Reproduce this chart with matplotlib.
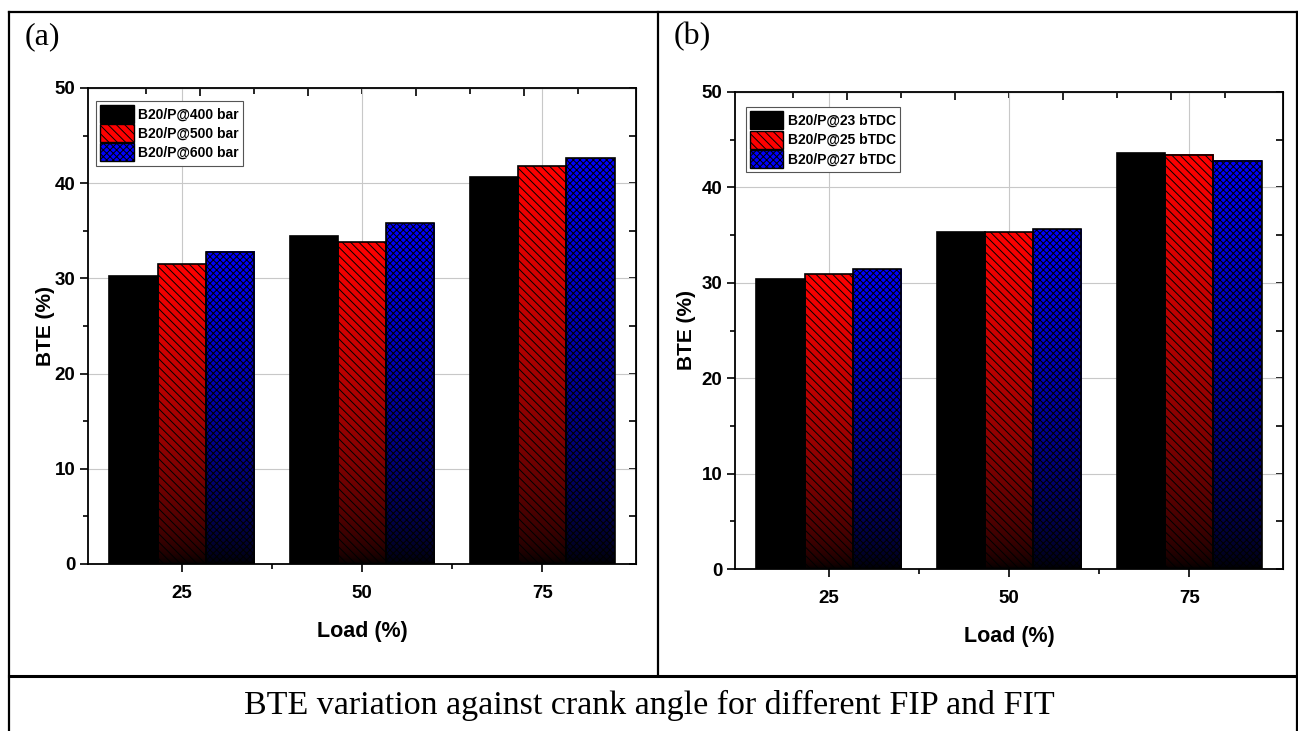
import numpy as np
import matplotlib.pyplot as plt
from matplotlib.patches import Rectangle
from matplotlib.lines import Line2D
from matplotlib.ticker import FixedLocator, MultipleLocator

plt.rcParams['font.family'] = ['Liberation Sans', 'DejaVu Sans']
plt.rcParams['hatch.linewidth'] = 0.7

W, H = 1298, 731

# data
loads = [25, 50, 75]
fip_labels = ['B20/P@400 bar', 'B20/P@500 bar', 'B20/P@600 bar']
bte_400bar = [30.2, 34.5, 40.7]
bte_500bar = [31.5, 33.8, 41.8]
bte_600bar = [32.8, 35.8, 42.6]
fit_labels = ['B20/P@23 bTDC', 'B20/P@25 bTDC', 'B20/P@27 bTDC']
bte_23btdc = [30.4, 35.3, 43.6]
bte_25btdc = [30.9, 35.3, 43.4]
bte_27btdc = [31.4, 35.6, 42.8]
caption = 'BTE variation against crank angle for different FIP and FIT'

colors = [(0, 0, 0), (1, 0, 0), (0, 0, 1)]
hatches = ['', '\\' * 4, 'x' * 5]


def px_axes(fig, left, top, right, bottom):
    # axes placed in pixel coords of the picture
    return fig.add_axes([left / W, 1 - bottom / H, (right - left) / W, (bottom - top) / H])


def draw_panel(ax, series, labels, legend_anchor, ylabel_x):
    width = 6.7
    offsets = [-width, 0, width]
    for vals, off, col, h in zip(series, offsets, colors, hatches):
        xs = np.array(loads) + off
        if col == (0, 0, 0):
            ax.bar(xs, vals, width, color='black', edgecolor='black', lw=1.2, zorder=3)
            continue
        bars = ax.bar(xs, vals, width, color='none', edgecolor='black', hatch=h, lw=1.2, zorder=3)
        for rect in bars:
            x0 = rect.get_x()
            hgt = rect.get_height()
            # gradient from full colour at the top to black at the bottom
            shade = np.linspace(1, 0, 256) ** 0.6
            grad = shade[:, None, None] * np.array(col)[None, None, :]
            ax.imshow(grad, extent=[x0, x0 + width, 0, hgt], aspect='auto',
                      origin='upper', interpolation='bilinear', zorder=2)

    ax.set_xlim(12, 88)
    ax.set_ylim(0, 50)
    ax.set_axisbelow(True)
    ax.grid(True, color='#c8c8c8', lw=0.8, zorder=0)

    ax.set_xticks(loads)
    ax.xaxis.set_minor_locator(FixedLocator([37.5, 62.5]))
    ax.yaxis.set_major_locator(MultipleLocator(10))
    ax.yaxis.set_minor_locator(MultipleLocator(5))
    ax.tick_params(which='major', direction='out', length=6, width=1.2, labelsize=13.5)
    ax.tick_params(axis='x', which='major', pad=9)
    ax.tick_params(axis='y', which='major', pad=3)
    ax.tick_params(which='minor', direction='out', length=3.5, width=1.2)
    for lab in ax.get_xticklabels() + ax.get_yticklabels():
        lab.set_fontweight('bold')
    for sp in ax.spines.values():
        sp.set_linewidth(1.3)

    top = ax.secondary_xaxis('top')
    top.set_xticks([27.5, 42.5, 57.5, 72.5])
    top.xaxis.set_minor_locator(FixedLocator([20, 35, 50, 65, 80]))
    top.tick_params(which='major', direction='in', length=6, width=1.2, labeltop=False)
    top.tick_params(which='minor', direction='in', length=4, width=1.2)
    right = ax.secondary_yaxis('right')
    right.set_yticks(np.arange(0, 51, 5))
    right.tick_params(direction='in', length=5, width=1.2, labelright=False)

    ax.set_xlabel('Load (%)', fontsize=15.5, fontweight='bold', labelpad=14)
    ax.set_ylabel('BTE (%)', fontsize=15, fontweight='bold')
    ax.yaxis.set_label_coords(ylabel_x, 0.5)

    handles = [Rectangle((0, 0), 1, 1, facecolor=c, edgecolor='black', hatch=h, lw=1.0)
               for c, h in zip(colors, hatches)]
    leg = ax.legend(handles, labels, loc='upper left', bbox_to_anchor=legend_anchor,
                    prop={'weight': 'bold', 'size': 10}, frameon=True, fancybox=False,
                    edgecolor='#555555', framealpha=1, handlelength=2.4, handleheight=1.6,
                    labelspacing=0.1, handletextpad=0.3, borderpad=0.3, borderaxespad=0)
    leg.get_frame().set_linewidth(0.8)


fig = plt.figure(figsize=(W / 100, H / 100), dpi=100)

ax_a = px_axes(fig, 88, 88, 636, 564)
draw_panel(ax_a, [bte_400bar, bte_500bar, bte_600bar], fip_labels, (0.015, 0.973), -0.06)

ax_b = px_axes(fig, 735, 92, 1283, 569)
draw_panel(ax_b, [bte_23btdc, bte_25btdc, bte_27btdc], fit_labels, (0.02, 0.968), -0.072)

# table-like frame around the two panels
lw = 1.6
fig.add_artist(Line2D([9 / W, 1297 / W], [1 - 12 / H, 1 - 12 / H], color='black', lw=lw))
fig.add_artist(Line2D([9 / W, 9 / W], [1 - 12 / H, 0], color='black', lw=lw))
fig.add_artist(Line2D([1297 / W, 1297 / W], [1 - 12 / H, 0], color='black', lw=lw))
fig.add_artist(Line2D([658 / W, 658 / W], [1 - 12 / H, 1 - 676 / H], color='black', lw=lw))
fig.add_artist(Line2D([9 / W, 1297 / W], [1 - 676 / H, 1 - 676 / H], color='black', lw=2.2))

fig.text(25 / W, 1 - 37 / H, '(a)', fontsize=23, family='Liberation Serif', va='center', ha='left')
fig.text(674 / W, 1 - 37 / H, '(b)', fontsize=23, family='Liberation Serif', va='center', ha='left')
fig.text(649 / W, 1 - 705 / H, caption, fontsize=24.5, family='Liberation Serif',
         va='center', ha='center')

fig.savefig('out.png', dpi=100)
